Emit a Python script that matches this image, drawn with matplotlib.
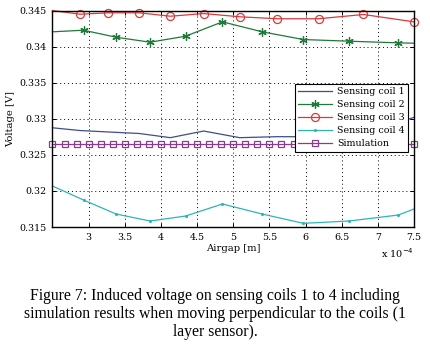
import numpy as np
import matplotlib
matplotlib.use('Agg')
import matplotlib.pyplot as plt

# Values (airgap in units of 1e-4 m, voltage in V)
airgap_a = [2.50, 2.88, 3.27, 3.70, 4.13, 4.59, 5.09, 5.61, 6.18, 6.80, 7.50]
airgap_b = [2.50, 2.93, 3.38, 3.85, 4.34, 4.85, 5.40, 5.97, 6.60, 7.28, 7.50]

coil1 = [0.32875, 0.32837, 0.32817, 0.32796, 0.32738, 0.32830, 0.32738,
         0.32752, 0.32750, 0.32790, 0.33020]
coil2 = [0.34205, 0.34227, 0.34130, 0.34061, 0.34144, 0.34343, 0.34205,
         0.34098, 0.34075, 0.34052, 0.34047]
coil3 = [0.34500, 0.34449, 0.34468, 0.34468, 0.34421, 0.34458, 0.34413,
         0.34386, 0.34386, 0.34445, 0.34343]
coil4 = [0.32068, 0.31874, 0.31680, 0.31583, 0.31652, 0.31819, 0.31680,
         0.31551, 0.31583, 0.31666, 0.31750]

airgap_sim = np.linspace(2.5, 7.5, 31)
sim = [0.3265] * 31

xticks = [3, 3.5, 4, 4.5, 5, 5.5, 6, 6.5, 7, 7.5]
xticklabels = ['3', '3.5', '4', '4.5', '5', '5.5', '6', '6.5', '7', '7.5']
yticks = [0.315, 0.32, 0.325, 0.33, 0.335, 0.34, 0.345]
yticklabels = ['0.315', '0.32', '0.325', '0.33', '0.335', '0.34', '0.345']

caption = ("Figure 7: Induced voltage on sensing coils 1 to 4 including\n"
           "simulation results when moving perpendicular to the coils (1\n"
           "layer sensor).")

plt.rcParams['font.family'] = 'DejaVu Serif'

fig = plt.figure(figsize=(4.3, 3.45), dpi=100)
ax = fig.add_axes([0.122, 0.342, 0.841, 0.6275])

inner = list(range(1, 10))
asterisk = (6, 2, 0)
ax.plot(airgap_a, coil1, color='#3c4f8c', lw=0.9, label='Sensing coil 1', clip_on=False)
ax.plot(airgap_b, coil2, color='#1f7a3a', lw=0.9, marker=asterisk, ms=6, mew=0.9,
        markevery=inner, label='Sensing coil 2', clip_on=False)
ax.plot(airgap_a, coil3, color='#d83a3a', lw=0.9, marker='o', ms=5.8, mfc='none',
        mew=0.9, markevery=list(range(1, 11)), label='Sensing coil 3', clip_on=False)
ax.plot(airgap_b, coil4, color='#2fb5b5', lw=0.9, marker='.', ms=2.5,
        markevery=inner, label='Sensing coil 4', clip_on=False)
ax.plot(airgap_sim, sim, color='#8c3a8c', lw=0.9, marker='s', ms=4.2, mfc='none',
        mew=0.9, label='Simulation', clip_on=False)

ax.set_xlim(2.5, 7.5)
ax.set_ylim(0.315, 0.345)
ax.set_xticks(xticks)
ax.set_xticklabels(xticklabels)
ax.set_yticks(yticks)
ax.set_yticklabels(yticklabels)
ax.tick_params(direction='in', length=3, width=0.7, labelsize=6.8,
               top=True, right=True, pad=4)
ax.grid(True, color='black', ls=(0, (1, 3)), lw=0.7)
for sp in ax.spines.values():
    sp.set_linewidth(1.0)

ax.set_xlabel('Airgap [m]', fontsize=7.2, labelpad=2)
ax.set_ylabel('Voltage [V]', fontsize=7.2, labelpad=3)
fig.text(0.963, 0.265, r'x 10$^{-4}$', ha='right', va='center', fontsize=7)

leg = ax.legend(loc='upper right', bbox_to_anchor=(0.983, 0.66), fontsize=6.8,
                frameon=True, fancybox=False, edgecolor='black', framealpha=1,
                handlelength=3.6, handletextpad=0.5, borderpad=0.35,
                labelspacing=0.42, borderaxespad=0)
leg.get_frame().set_linewidth(0.8)
leg.set_zorder(5)

fig.text(0.5, 0.09, caption, ha='center', va='center', fontsize=11.3,
         family='Liberation Serif', linespacing=1.2)

fig.savefig('out.png', dpi=100)
